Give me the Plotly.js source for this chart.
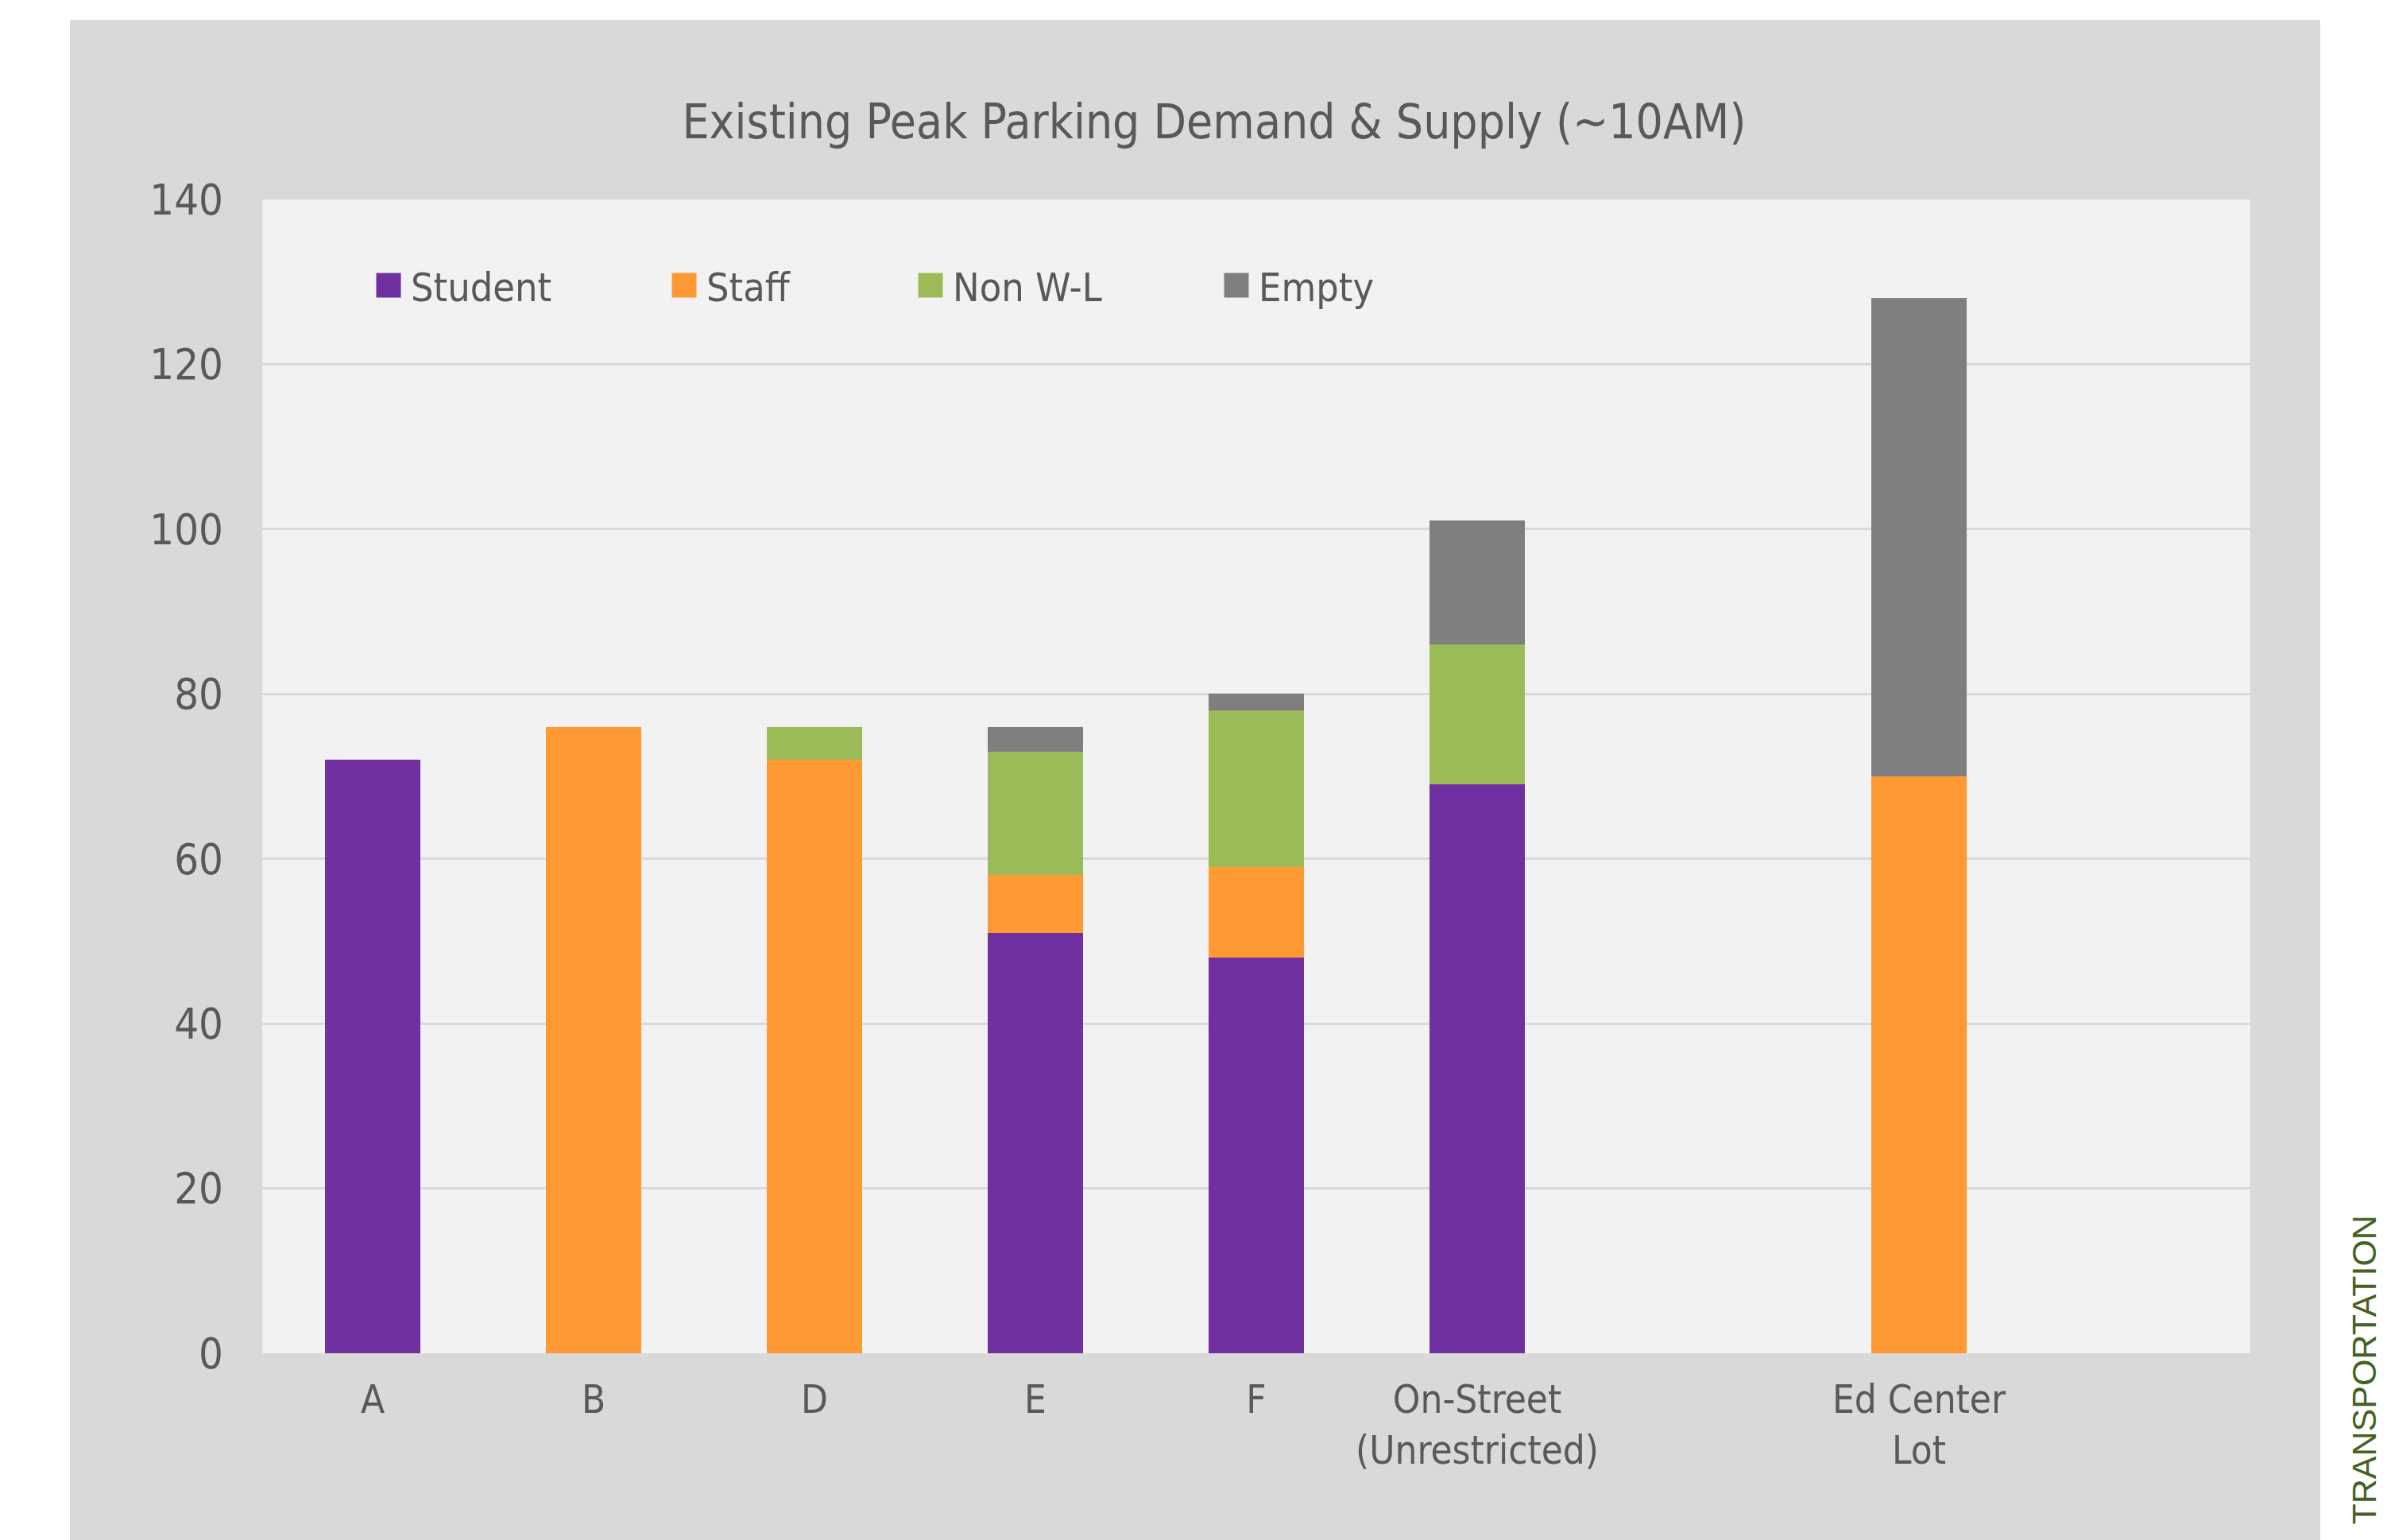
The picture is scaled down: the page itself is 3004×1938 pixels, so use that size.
<!DOCTYPE html>
<html>
<head>
<meta charset="utf-8">
<script src="https://cdn.plot.ly/plotly-3.0.1.min.js"></script>
<style>
  html, body { margin: 0; padding: 0; background: #ffffff; }
  #chart { width: 3004px; height: 1938px; }
</style>
</head>
<body>
<div id="chart"></div>
<script>
// ---- Data ----
const axisCategories = ['A', 'B', 'D', 'E', 'F', 'On-Street<br>(Unrestricted)', ' ', 'Ed Center<br>Lot', '  '];
const barCategories = ['A', 'B', 'D', 'E', 'F', 'On-Street<br>(Unrestricted)', 'Ed Center<br>Lot'];
const student = [72, null, null, 51, 48, 69, null];
const staff   = [null, 76, 72, 7, 11, null, 70];
const nonWL   = [null, null, 4, 15, 19, 17, null];
const empty   = [null, null, null, 3, 2, 15, 58];
const seriesNames = ['Student', 'Staff', 'Non W-L', 'Empty'];
const yTicks = [0, 20, 40, 60, 80, 100, 120, 140];
const titleText = 'Existing Peak Parking Demand &amp; Supply (~10AM)';
const sideText = 'TRANSPORTATION';

// ---- Layout helpers (pixel -> paper) ----
const W = 3004, H = 1938;
const L = 330, R = 2832, T = 251, B = 1703;
const px = X => (X - L) / (R - L);
const py = Y => (B - Y) / (B - T);

const FONT = 'DejaVu Sans Condensed, Liberation Sans Narrow, sans-serif';
const TXT = '#595959';
const colors = ['#7030a0', '#ff9933', '#9bbb59', '#7f7f7f'];
const seriesValues = [student, staff, nonWL, empty];
const legendIds = ['legend', 'legend2', 'legend3', 'legend4'];
const legendMarkerLeft = [473, 845, 1155, 1540];

const traces = seriesNames.map((name, i) => ({
  type: 'bar',
  name: name,
  x: barCategories,
  y: seriesValues[i],
  marker: { color: colors[i], line: { width: 0 } },
  legend: legendIds[i],
  hoverinfo: 'x+y+name'
}));

const legendBase = {
  orientation: 'h',
  bgcolor: 'rgba(0,0,0,0)',
  borderwidth: 0,
  font: { family: FONT, size: 50, color: TXT },
  itemwidth: 46,
  xanchor: 'left',
  yanchor: 'middle',
  y: py(359)
};

const layout = {
  width: W,
  height: H,
  paper_bgcolor: '#ffffff',
  plot_bgcolor: '#f2f2f2',
  margin: { l: L, r: W - R, t: T, b: H - B, pad: 0 },
  barmode: 'stack',
  bargap: 0.565,
  showlegend: true,
  title: {
    text: titleText,
    font: { family: FONT, size: 60, color: TXT },
    xref: 'container', yref: 'container',
    x: 1528 / W, xanchor: 'center',
    y: 1 - 153 / H, yanchor: 'middle'
  },
  xaxis: {
    type: 'category',
    categoryorder: 'array',
    categoryarray: axisCategories,
    range: [-0.5, axisCategories.length - 0.5],
    showgrid: false,
    zeroline: false,
    showline: false,
    ticks: '',
    ticklabelstandoff: 25,
    tickfont: { family: FONT, size: 49, color: TXT },
    fixedrange: true
  },
  yaxis: {
    range: [0, 140],
    tickvals: yTicks,
    showgrid: true,
    gridcolor: '#d9d9d9',
    gridwidth: 3,
    zeroline: false,
    showline: false,
    ticks: '',
    ticklabelstandoff: 48,
    tickfont: { family: FONT, size: 54, color: TXT },
    fixedrange: true
  },
  shapes: [
    { type: 'rect', xref: 'paper', yref: 'paper', layer: 'below',
      x0: px(88), x1: px(2920), y0: py(1960), y1: py(25),
      fillcolor: '#d9d9d9', line: { width: 0 } },
    { type: 'rect', xref: 'paper', yref: 'paper', layer: 'below',
      x0: 0, x1: 1, y0: 0, y1: 1,
      fillcolor: '#f2f2f2', line: { width: 0 } }
  ],
  annotations: [
    { text: sideText, xref: 'paper', yref: 'paper',
      x: px(2974), y: py(1528), xanchor: 'center', yanchor: 'top',
      textangle: -90, showarrow: false,
      font: { family: 'Liberation Sans, Arial, sans-serif', size: 43, color: '#426322' } }
  ]
};

legendIds.forEach((id, i) => {
  layout[id] = Object.assign({}, legendBase, { x: px(legendMarkerLeft[i] - 12) });
});

Plotly.newPlot('chart', traces, layout, { staticPlot: true, displayModeBar: false }).then(gd => {
  gd.querySelectorAll('.legendpoints path').forEach(p => {
    p.setAttribute('d', 'M15.5,15.5H-15.5V-15.5H15.5Z');
  });
});
</script>
</body>
</html>
